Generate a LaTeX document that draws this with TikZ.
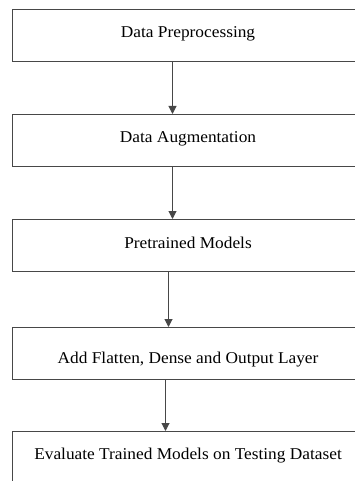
\documentclass[tikz,border=0pt]{standalone}
\usepackage{fontspec}
\setmainfont{Liberation Serif}[FakeStretch=1.05]
\usetikzlibrary{arrows.meta}

\tikzset{
  stagebox/.style={draw=black!72, line width=1.1pt, anchor=north west,
    minimum width=351pt, minimum height=52pt, inner sep=0pt,
    text height=8pt, text depth=5pt,
    font=\fontsize{16.5}{19}\selectfont, text=black},
  flow/.style={draw=black!72, line width=1pt,
    -{Triangle[width=8pt,length=8pt]}},
}

\begin{document}
\begin{tikzpicture}[x=1pt, y=-1pt]
  \useasboundingbox (0,0) rectangle (355,481);
  \clip (0,0) rectangle (355,481);

  % pipeline stages, top to bottom
  \node[stagebox] (b1) at (12,9)   {Data Preprocessing};
  \node[stagebox] (b2) at (12,114) {Data Augmentation};
  \node[stagebox, text height=9.6pt, text depth=3pt] (b3) at (12,219) {Pretrained Models};
  \node[stagebox, text height=20.6pt, text depth=0pt] (b4) at (12,327) {Add Flatten, Dense and Output Layer};
  \node[stagebox] (b5) at (12,431) {Evaluate Trained Models on Testing Dataset};

  % connectors between stages
  \draw[flow] (172.5,0 |- b1.south) -- (172.5,0 |- b2.north);
  \draw[flow] (172.5,0 |- b2.south) -- (172.5,0 |- b3.north);
  \draw[flow] (168.5,0 |- b3.south) -- (168.5,0 |- b4.north);
  \draw[flow] (165.5,0 |- b4.south) -- (165.5,0 |- b5.north);
\end{tikzpicture}
\end{document}
